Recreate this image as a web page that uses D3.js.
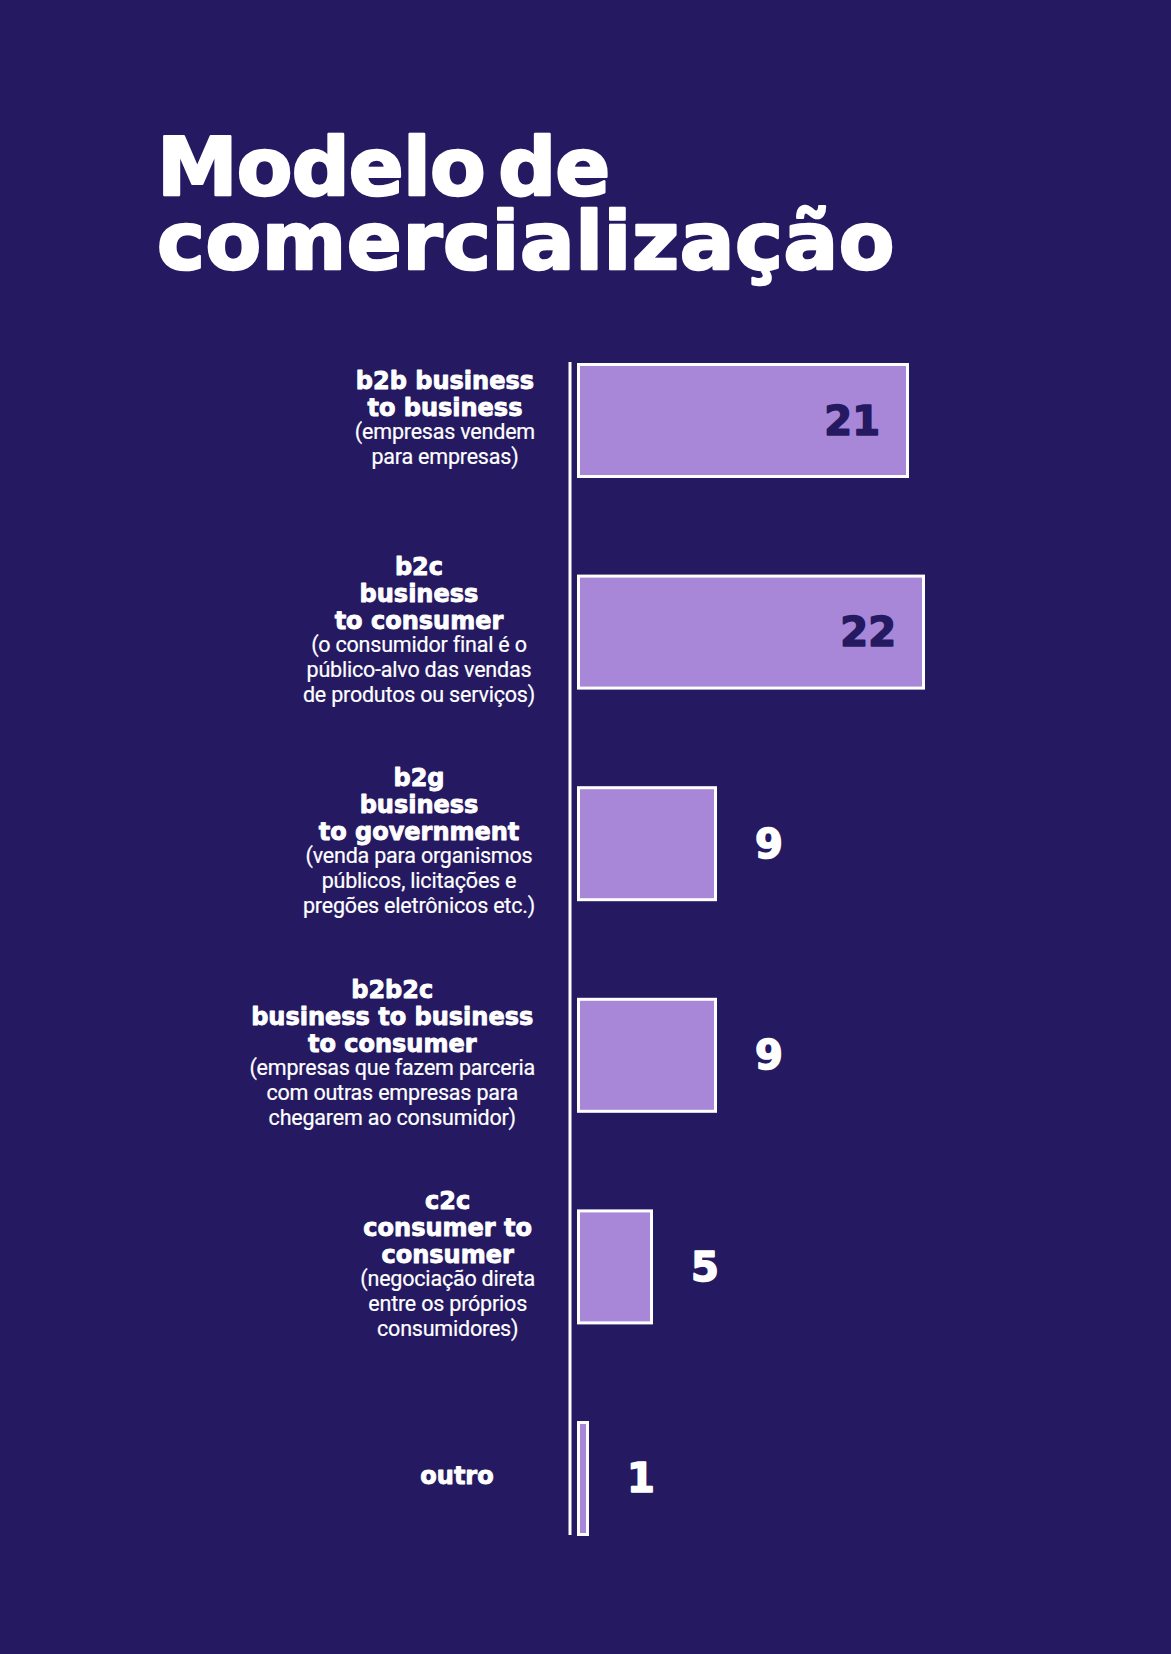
<!DOCTYPE html>
<html><head><meta charset="utf-8">
<script src="https://cdn.jsdelivr.net/npm/d3@7"></script>
<style>
html,body{margin:0;padding:0;background:#251a62;}
svg{display:block;}
</style></head>
<body>
<svg id="chart" width="1171" height="1654"></svg>
<script>
const titleLines = ["Modelo de", "comercialização"];
const categories = ["b2b", "b2c", "b2g", "b2b2c", "c2c", "outro"];
const values = [21, 22, 9, 9, 5, 1];
const boldLabels = [
  ["b2b business", "to business"],
  ["b2c", "business", "to consumer"],
  ["b2g", "business", "to government"],
  ["b2b2c", "business to business", "to consumer"],
  ["c2c", "consumer to", "consumer"],
  ["outro"]
];
const noteLabels = [
  ["(empresas vendem", "para empresas)"],
  ["(o consumidor final é o", "público-alvo das vendas", "de produtos ou serviços)"],
  ["(venda para organismos", "públicos, licitações e", "pregões eletrônicos etc.)"],
  ["(empresas que fazem parceria", "com outras empresas para", "chegarem ao consumidor)"],
  ["(negociação direta", "entre os próprios", "consumidores)"],
  []
];

const BG = "#251a62", BAR = "#a887d8", WHITE = "#ffffff";
const svg = d3.select("#chart");
svg.append("rect").attr("width", 1171).attr("height", 1654).attr("fill", BG);

// Title
const title = svg.append("text")
  .attr("font-family", "DejaVu Sans").attr("font-weight", 700)
  .attr("font-size", 81).attr("fill", WHITE)
  .attr("stroke", WHITE).attr("stroke-width", 2.6).attr("stroke-linejoin", "round");
titleLines.forEach((t, i) => {
  title.append("tspan").attr("x", 157).attr("y", 195 + i * 74)
    .attr("letter-spacing", i === 0 ? -0.8 : 0.6)
    .attr("word-spacing", i === 0 ? -14 : 0)
    .text(t);
});

// Scales
const axisX = 570, barStart = 577;
const x = d3.scaleLinear().domain([0, 22]).range([573, 925]);
const y = d3.scaleBand().domain(categories).range([363, 1536]).paddingInner(0.4565).paddingOuter(0);

// Axis line
svg.append("line")
  .attr("x1", axisX).attr("x2", axisX)
  .attr("y1", y.range()[0] - 1).attr("y2", y.range()[1] - 1)
  .attr("stroke", WHITE).attr("stroke-width", 3);

const data = categories.map((c, i) => ({c, v: values[i], bold: boldLabels[i], note: noteLabels[i]}));

// Bars
svg.selectAll("rect.bar").data(data).join("rect").attr("class", "bar")
  .attr("x", barStart + 1.5)
  .attr("y", d => y(d.c) + 1.5)
  .attr("width", d => Math.max(1, x(d.v) - barStart - 3))
  .attr("height", y.bandwidth() - 3)
  .attr("fill", BAR).attr("stroke", WHITE).attr("stroke-width", 3);

// Values
svg.selectAll("text.val").data(data).join("text").attr("class", "val")
  .attr("font-family", "DejaVu Sans").attr("font-weight", 700).attr("font-size", 40)
  .attr("x", d => d.v >= 15 ? x(d.v) - 29 : x(d.v) + 38)
  .attr("text-anchor", d => d.v >= 15 ? "end" : "start")
  .attr("y", d => y(d.c) + y.bandwidth() / 2 + 14)
  .attr("fill", d => d.v >= 15 ? BG : WHITE)
  .attr("stroke", d => d.v >= 15 ? BG : WHITE).attr("stroke-width", 1.6).attr("stroke-linejoin", "round")
  .text(d => d.v);

// Category labels
const BOLD_LH = 27, NOTE_LH = 25, GAP = 23;
const rightEdge = 535, maxCenter = 457;
data.forEach(d => {
  const g = svg.append("g");
  const lines = [];
  d.bold.forEach(t => lines.push({t, bold: true}));
  d.note.forEach(t => lines.push({t, bold: false}));
  let yy = 0; const ys = [];
  lines.forEach((l, i) => {
    if (i > 0) {
      if (l.bold) yy += BOLD_LH;
      else if (lines[i - 1].bold) yy += GAP;
      else yy += NOTE_LH;
    }
    ys.push(yy);
  });
  const capTop = -17, bottom = ys[ys.length - 1] + 5;
  const blockH = bottom - capTop;
  const cy = y(d.c) + y.bandwidth() / 2;
  const offsetY = cy - blockH / 2 - capTop;
  const texts = g.selectAll("text").data(lines).join("text")
    .attr("x", 0).attr("y", (l, i) => ys[i] + offsetY)
    .attr("text-anchor", "middle")
    .attr("font-family", l => l.bold ? "DejaVu Sans" : "Roboto")
    .attr("font-weight", l => l.bold ? 700 : 400)
    .attr("font-size", l => l.bold ? 24 : 21.5)
    .attr("letter-spacing", l => l.bold ? 0 : -0.2)
    .attr("fill", WHITE)
    .attr("stroke", WHITE)
    .attr("stroke-width", l => l.bold ? 0.9 : 0.2)
    .attr("stroke-linejoin", "round")
    .text(l => l.t);
  let maxW = 0;
  texts.each(function() { maxW = Math.max(maxW, this.getComputedTextLength()); });
  const center = Math.min(rightEdge - maxW / 2, maxCenter);
  g.attr("transform", `translate(${center},0)`);
});
</script>
</body></html>
